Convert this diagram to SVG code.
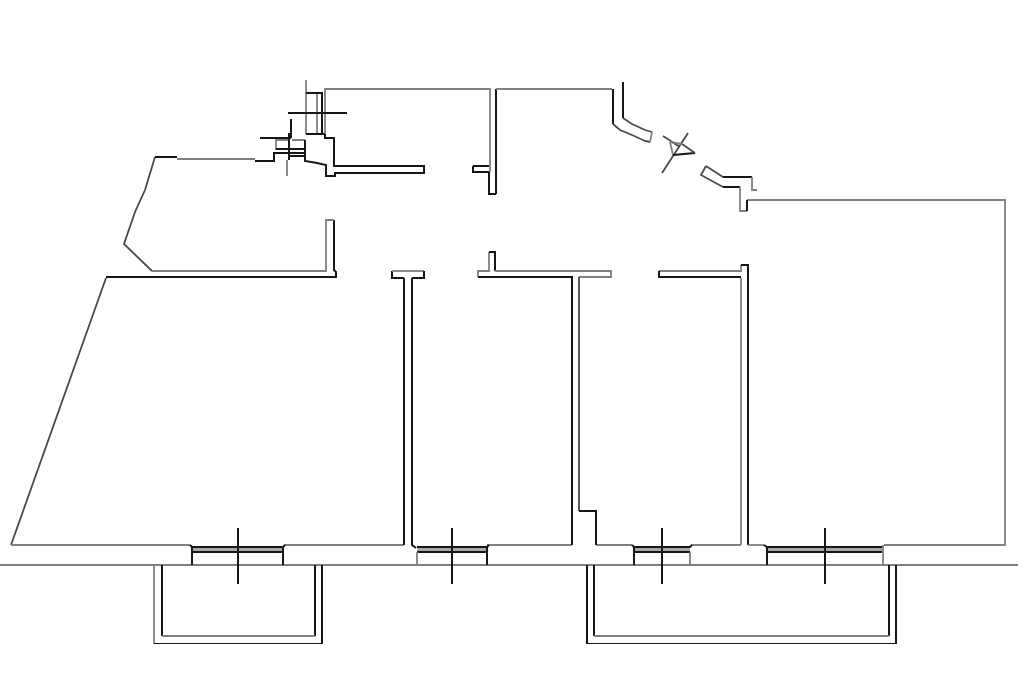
<svg xmlns="http://www.w3.org/2000/svg" width="1024" height="682" viewBox="0 0 1024 682">
<style>
path{fill:none;stroke-linejoin:miter}
.d{stroke:#161616;stroke-width:2}
.g{stroke:#808080;stroke-width:1.8}
.m{stroke:#4a4a4a;stroke-width:1.8}
.f{fill:#a8a8a8;stroke:none}
</style>
<defs><filter id="soft" x="0" y="0" width="100%" height="100%"><feGaussianBlur stdDeviation="0.35"/></filter></defs>
<rect width="1024" height="682" fill="#fff"/>
<g filter="url(#soft)">
<g id="plan">
<path class="g" d="M0 565H1018"/>
<path class="m" d="M106 278L11 545"/>
<path class="g" d="M11 545H190M284 545H404M487 545H572M596 545H632M691 545H741M884 545H1005V200H747"/>
<path class="d" d="M106 277H336V272L334 270V220"/>
<path class="g" d="M334 220H326V271H152"/>
<path class="m" d="M152 271L124 244L135 212L145 190L155 157"/>
<path class="d" d="M155 157H177"/>
<path class="g" d="M177 159H255"/>
<path class="d" d="M255 161H274V153H289"/>
<path class="g" d="M306 80V134M325 134V89H490V172M317 93V134M276 138V150M292 140H305M276 140H289M287 160V176"/>
<path class="d" d="M306 93H322V134M306 134H325M325 134V138H334V166H424V173H335V176H326V165L317 163L305 161V140M288 113H347M260 138H291M291 119V138M289 133V160M276 149H305M289 156H305M275 153H305"/>
<path class="d" d="M473 166H489M473 166V172H489M489 172V194H496M496 89V194"/>
<path class="g" d="M496 89H612"/>
<path class="d" d="M613 89V124"/>
<path class="m" d="M613 124L620 130L632 135L645 141L650 142"/>
<path class="g" d="M650 142L652 132"/>
<path class="m" d="M652 132L645 130L632 124L623 118"/>
<path class="d" d="M623 118V82"/>
<path class="m" d="M663 136L680 147M688 133L662 173"/>
<path class="g" d="M670 142L673 155"/>
<path class="d" d="M673 155L695 153"/>
<path class="m" d="M695 153L682 144"/>
<path class="g" d="M682 144L670 142"/>
<path class="m" d="M706 166L723 177"/>
<path class="d" d="M723 177H752"/>
<path class="g" d="M752 177V190H757"/>
<path class="m" d="M706 166L701 175L723 187"/>
<path class="d" d="M723 187H740"/>
<path class="g" d="M740 187V211H747"/>
<path class="d" d="M747 211V200"/>
<path class="d" d="M404 278H392V271"/>
<path class="g" d="M392 271H424"/>
<path class="d" d="M424 271V278H412M404 278V545M412 278V545L416 548"/>
<path class="g" d="M489 252V271H478V277"/>
<path class="d" d="M489 252H495V271"/>
<path class="g" d="M495 271H611V277H579"/>
<path class="m" d="M579 277V511"/>
<path class="d" d="M478 277H572V545M579 511H596V545"/>
<path class="g" d="M659 271H741V265M741 278V545"/>
<path class="d" d="M659 271V277H741M741 265H748V545"/>
<path class="g" d="M748 545H764"/>
</g>
<g id="windows">
<rect class="f" x="192" y="547" width="91" height="5"/>
<rect class="f" x="417" y="547" width="70" height="5"/>
<rect class="f" x="634" y="547" width="56" height="5"/>
<rect class="f" x="767" y="547" width="115" height="5"/>
<path class="d" d="M190 545L192 547H283L285 545M192 552H283M192 547V565M283 547V565M238 528V584"/>
<path class="d" d="M417 547H487L489 545M417 552H487M487 547V565M452 528V584"/>
<path class="g" d="M417 552V565"/>
<path class="d" d="M632 545L634 547H690L692 545M634 552H690M634 547V565M662 528V584"/>
<path class="g" d="M690 552V565"/>
<path class="d" d="M764 545L767 547H882M767 552H882M767 547V565M825 528V584"/>
<path class="g" d="M883 545V565"/>
</g>
<g id="balconies">
<path class="g" d="M154 565V644"/>
<path class="d" d="M154 644H322V565M162 565V636M315 565V636"/>
<path class="g" d="M162 636H315"/>
<path class="d" d="M587 565V644H896V565M594 565V636M889 565V636"/>
<path class="g" d="M594 636H889"/>
</g>
</g>
</svg>
